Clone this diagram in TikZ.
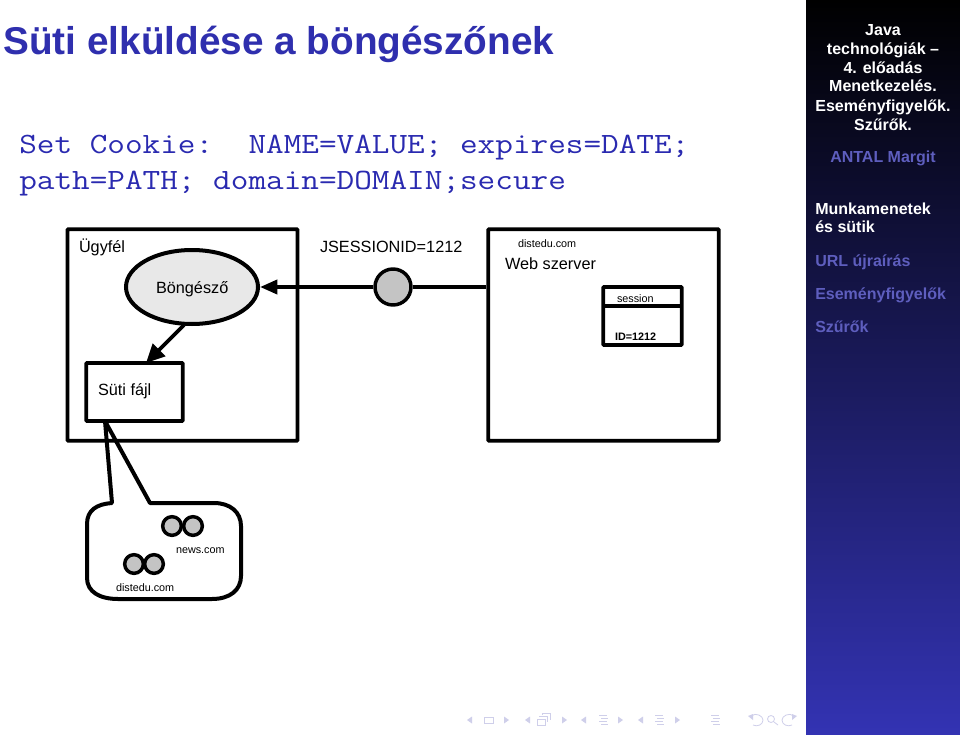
\documentclass[tikz,border=0pt]{standalone}
\usepackage{fontspec}
\setmainfont{Liberation Sans}
\usetikzlibrary{shapes.geometric,arrows.meta}
\definecolor{titleblue}{HTML}{2F2FAE}
\definecolor{monoblue}{HTML}{2A2AB0}
\definecolor{navdim}{HTML}{5E5EBE}
\definecolor{navicon}{HTML}{CFCFEA}
\definecolor{sidebottom}{HTML}{3333B3}
\definecolor{lightfill}{HTML}{E8E8E8}
\definecolor{greyfill}{HTML}{C4C4C4}
\tikzset{
  x=0.75pt,y=-0.75pt,
  txt/.style={anchor=base west,inner sep=0pt,outer sep=0pt,font=\fontsize{12.2}{14}\selectfont},
  small/.style={txt,font=\fontsize{8.1}{10}\selectfont},
  box/.style={draw=black,line width=2.8pt,rounded corners=0.6pt,inner sep=0pt,fill=white},
  thick line/.style={draw=black,line width=2.8pt,line join=round},
  arrowed/.style={thick line,-{Triangle[length=13pt,width=10.5pt]}},
  arrowedbig/.style={thick line,-{Triangle[length=14pt,width=13pt]}},
  cookiedot/.style={circle,draw=black,line width=2.6pt,fill=greyfill,minimum size=14pt,inner sep=0pt},
  sideh/.style={anchor=base,inner sep=0pt,text=white,font=\fontsize{12}{14}\selectfont\bfseries},
  sidel/.style={anchor=base west,inner sep=0pt,font=\fontsize{12}{14}\selectfont\bfseries},
  monotxt/.style={anchor=base west,inner sep=0pt,text=monoblue,font=\fontsize{25.68}{30}\selectfont\ttfamily},
  ico/.style={draw=navicon,line width=0.6pt},
  icof/.style={fill=navicon,draw=none},
}
\begin{document}
\begin{tikzpicture}
\useasboundingbox (0,0) rectangle (960,735);
\fill[white] (0,0) rectangle (960,735);
% sidebar
\shade[top color=black,bottom color=sidebottom] (806,0) rectangle (960,735);
\foreach \t/\y in {Java/36,{technológiák --}/55,{4. előadás}/74,{Menetkezelés.}/92,{Eseményfigyelők.}/111,{Szűrők.}/130}
  \node[sideh] (side\y) at (883,\y) {\t};
\node[sideh,text=navdim] (author) at (883,162) {ANTAL Margit};
\node[sidel,text=white] (s1) at (815,214) {Munkamenetek};
\node[sidel,text=white] (s2) at (815,232) {és sütik};
\node[sidel,text=navdim] (s3) at (815,266) {URL újraírás};
\node[sidel,text=navdim] (s4) at (815,299) {Eseményfigyelők};
\node[sidel,text=navdim] (s5) at (815,332) {Szűrők};
% title
\node[anchor=base west,inner sep=0pt,text=titleblue,font=\fontsize{29.05}{34}\selectfont\bfseries] (title) at (3,55) {Süti elküldése a böngészőnek};
\node[monotxt] (l1) at (19,153) {\scalebox{1}[0.86]{Set Cookie:\ \ NAME=VALUE; expires=DATE;}};
\node[monotxt] (l2) at (19,189) {\scalebox{1}[0.86]{path=PATH; domain=DOMAIN;secure}};
% boxes
\node[box,minimum width=172.5pt,minimum height=158.5pt] (client) at (182.5,335) {};
\node[box,minimum width=173pt,minimum height=158.5pt] (server) at (603.5,335) {};
\node[box,minimum width=72.5pt,minimum height=43.5pt] (suti) at (134.5,392) {};
\node[ellipse,draw=black,line width=3pt,fill=lightfill,minimum width=99pt,minimum height=55.5pt,inner sep=0pt] (browser) at (192,287) {};
\node[cookiedot,minimum size=27pt] (cookie) at (393,287) {};
\node[box,minimum width=59pt,minimum height=43.5pt] (session) at (642.5,316) {};
\coordinate (divL) at (603,306);
\coordinate (divR) at (682,306);
\draw[thick line,line width=2.4pt] (divL) -- (divR);
% connectors
\draw[thick line] (server.west |- cookie.east) -- (cookie.east);
\draw[arrowed] (cookie.west) -- (browser.east);
\coordinate (sutiTop) at (146,363);
\coordinate (brLow) at (184,325);
\draw[arrowedbig] (brLow) -- (sutiTop);
% callout
\coordinate (tip) at (105,421);
\draw[thick line,fill=none,line width=3pt,rounded corners=0pt]
  (tip) -- (112,503) .. controls (97,504) and (87,510) .. (87,524)
  -- (87,578) .. controls (87,592) and (100,599) .. (118,599)
  -- (212,599) .. controls (230,599) and (241,590) .. (241,576)
  -- (241,526) .. controls (241,512) and (230,503) .. (214,503)
  -- (150,503) -- cycle;
\node[cookiedot] (n1) at (172,526) {};
\node[cookiedot] (n2) at (193,526) {};
\node[cookiedot] (d1) at (134,564) {};
\node[cookiedot] (d2) at (154,564) {};
% labels
\node[txt] (lclient) at (79,252) {Ügyfél};
\node[txt] (lbrowser) at (156,293) {Böngésző};
\node[txt] (lsuti) at (98,395) {Süti fájl};
\node[txt] (ljs) at (320,252) {JSESSIONID=1212};
\node[small] (ldist) at (518,247) {distedu.com};
\node[txt] (lweb) at (505,269) {Web szerver};
\node[small] (lsess) at (617,302) {session};
\node[small,font=\fontsize{8.1}{10}\selectfont\bfseries] (lid) at (615,340) {ID=1212};
\node[small] (lnews) at (176,553) {news.com};
\node[small] (ldist2) at (116,591) {distedu.com};
% navigation symbols
\foreach \x in {472,530,586,643} \fill[icof] (\x,716.5) -- (\x,723.5) -- (\x-5,720) -- cycle;
\foreach \x in {504,562,618,675} \fill[icof] (\x,716.5) -- (\x,723.5) -- (\x+5,720) -- cycle;
\draw[ico] (484,717) rectangle (493,723);
\draw[ico] (537,719) rectangle (545,725);
\draw[ico] (539.5,717) -- (539.5,716) -- (547.5,716) -- (547.5,722);
\draw[ico] (542,714.5) -- (542,713.5) -- (550,713.5) -- (550,719.5);
\foreach \x in {603,659,715} {
  \draw[ico] (\x-4,715) -- (\x+4,715);
  \draw[ico] (\x-2,718) -- (\x+5,718);
  \draw[ico] (\x-4,721) -- (\x+4,721);
  \draw[ico] (\x-2,724) -- (\x+5,724);
}
\draw[ico] (751,716) .. controls (756,712) and (763,716) .. (763,720) .. controls (763,725) and (757,727) .. (753,725);
\fill[icof] (748,716) -- (753,714) -- (753,720) -- cycle;
\draw[ico] (771,719) circle[radius=3.5];
\draw[ico] (774,722) -- (778,725);
\draw[ico] (794,716) .. controls (789,712) and (782,716) .. (782,720) .. controls (782,725) and (788,727) .. (792,725);
\fill[icof] (797,716) -- (792,714) -- (792,720) -- cycle;
\end{tikzpicture}
\end{document}
